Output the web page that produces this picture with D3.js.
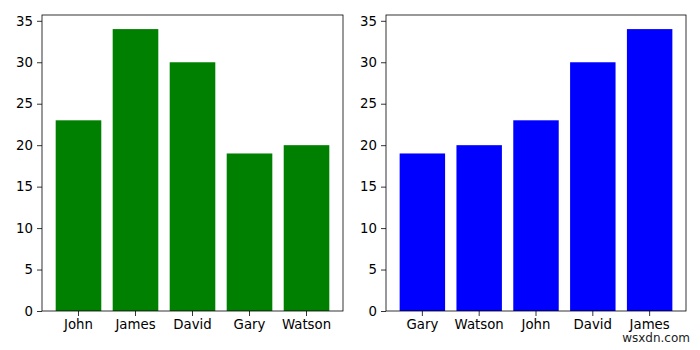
<!DOCTYPE html>
<html>
<head>
<meta charset="utf-8">
<script src="https://cdn.jsdelivr.net/npm/d3@7"></script>
<style>
  body { margin: 0; background: #fff; }
  text { font-family: "DejaVu Sans", sans-serif; }
</style>
</head>
<body>
<script>
var width = 700;
var height = 350;

// left plot: original order
var namesLeft = ["John", "James", "David", "Gary", "Watson"];
var valuesLeft = [23, 34, 30, 19, 20];
// right plot: sorted by value
var namesRight = ["Gary", "Watson", "John", "David", "James"];
var valuesRight = [19, 20, 23, 30, 34];
var yTicks = [0, 5, 10, 15, 20, 25, 30, 35];

var svg = d3.select('body')
    .append('svg')
    .attr('width', width)
    .attr('height', height);

var plotTop = 15, plotBottom = 311;

var y = d3.scaleLinear()
    .domain([0, 35.7])
    .range([plotBottom, plotTop]);

function drawPanel(left, right, names, values, color) {
    var g = svg.append('g');

    var x = d3.scaleBand()
        .domain(names)
        .range([left, right])
        .paddingInner(0.2)
        .paddingOuter(0.24);

    g.selectAll('rect')
        .data(values)
        .enter()
        .append('rect')
        .attr('x', function(d, i) { return x(names[i]); })
        .attr('y', function(d) { return y(d); })
        .attr('width', x.bandwidth())
        .attr('height', function(d) { return plotBottom - y(d); })
        .attr('fill', color);

    var xAxis = d3.axisBottom(x).tickSize(5).tickPadding(4);
    g.append('g')
        .attr('transform', 'translate(0,' + plotBottom + ')')
        .call(xAxis)
        .call(function(a) {
            a.select('.domain').remove();
            a.selectAll('text').attr('font-size', 13.3).attr('fill', '#000')
                .style('font-family', '"DejaVu Sans", sans-serif');
            a.selectAll('line').attr('stroke', '#000').attr('stroke-width', 0.8);
        });

    var yAxis = d3.axisLeft(y).tickValues(yTicks).tickSize(5).tickPadding(4);
    g.append('g')
        .attr('transform', 'translate(' + left + ',0)')
        .call(yAxis)
        .call(function(a) {
            a.select('.domain').remove();
            a.selectAll('text').attr('font-size', 13.3).attr('fill', '#000')
                .style('font-family', '"DejaVu Sans", sans-serif');
            a.selectAll('line').attr('stroke', '#000').attr('stroke-width', 0.8);
        });

    g.append('rect')
        .attr('x', left)
        .attr('y', plotTop)
        .attr('width', right - left)
        .attr('height', plotBottom - plotTop)
        .attr('fill', 'none')
        .attr('stroke', '#000')
        .attr('stroke-width', 0.8);
}

drawPanel(42, 343, namesLeft, valuesLeft, '#008000');
drawPanel(386, 686, namesRight, valuesRight, '#0000ff');

svg.append('text')
    .attr('x', 690)
    .attr('y', 342)
    .attr('text-anchor', 'end')
    .attr('font-size', 12)
    .attr('fill', '#222')
    .text('wsxdn.com');
</script>
</body>
</html>
